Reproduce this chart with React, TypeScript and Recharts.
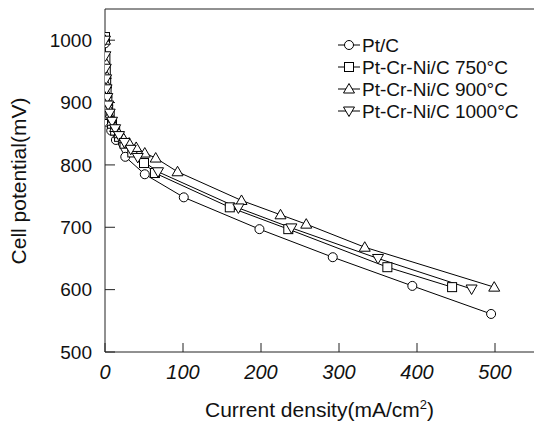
import React from "react";
import {
  LineChart,
  Line,
  XAxis,
  YAxis,
  Legend,
  ReferenceLine,
} from "recharts";

const FONT = "'Liberation Sans', Arial, Helvetica, sans-serif";

// current density (mA/cm2) and cell potential (mV) per catalyst
const ptcCurrent = [0, 0.5, 1, 2, 4, 8, 14, 26, 51, 101, 198, 292, 394, 495];
const ptcPotential = [995, 930, 900, 883, 868, 855, 840, 813, 785, 748, 697, 652, 606, 561];

const c750Current = [0, 0.5, 1, 1.5, 2, 3, 4, 6, 9, 13, 18, 25, 35, 50, 64, 160, 235, 362, 445];
const c750Potential = [1005, 970, 950, 935, 920, 905, 893, 880, 866, 855, 845, 834, 820, 803, 787, 732, 697, 636, 604];

const c900Current = [0, 0.5, 1, 1.5, 2, 3, 4, 6, 9, 13, 18, 24, 31, 40, 51, 65, 93, 175, 225, 258, 333, 499];
const c900Potential = [1000, 965, 945, 930, 915, 902, 892, 880, 870, 860, 850, 842, 835, 828, 819, 811, 789, 743, 720, 705, 668, 604];

const c1000Current = [0, 0.5, 1, 1.5, 2, 3, 4, 6, 9, 13, 18, 25, 33, 42, 68, 171, 239, 350, 470];
const c1000Potential = [1000, 975, 955, 938, 922, 908, 896, 883, 870, 858, 847, 836, 825, 812, 789, 731, 699, 650, 601];

const xTicks = [0, 100, 200, 300, 400, 500];
const yTicks = [500, 600, 700, 800, 900, 1000];

const zip = (xs: number[], ys: number[]) => xs.map((x, i) => ({ x, y: ys[i] }));

type Shape = "circle" | "square" | "up" | "down";

function Marker({ cx, cy, shape }: { cx: number; cy: number; shape: Shape }) {
  const p = { fill: "#fff", stroke: "#000", strokeWidth: 1 };
  if (shape === "circle") return <circle cx={cx} cy={cy} r={4.5} {...p} />;
  if (shape === "square") return <rect x={cx - 4.5} y={cy - 4.5} width={9} height={9} {...p} />;
  if (shape === "up")
    return <polygon points={`${cx},${cy - 5.5} ${cx + 5.5},${cy + 4} ${cx - 5.5},${cy + 4}`} {...p} />;
  return <polygon points={`${cx},${cy + 5.5} ${cx + 5.5},${cy - 4} ${cx - 5.5},${cy - 4}`} {...p} />;
}

const series: { name: string; shape: Shape; data: { x: number; y: number }[] }[] = [
  { name: "Pt/C", shape: "circle", data: zip(ptcCurrent, ptcPotential) },
  { name: "Pt-Cr-Ni/C 750°C", shape: "square", data: zip(c750Current, c750Potential) },
  { name: "Pt-Cr-Ni/C 900°C", shape: "up", data: zip(c900Current, c900Potential) },
  { name: "Pt-Cr-Ni/C 1000°C", shape: "down", data: zip(c1000Current, c1000Potential) },
];

function LegendBox() {
  return (
    <svg width={200} height={90}>
      {series.map((s, i) => {
        const y = 11 + i * 22;
        return (
          <g key={s.name}>
            <line x1={8} x2={30} y1={y} y2={y} stroke="#000" strokeWidth={1} />
            <Marker cx={19} cy={y} shape={s.shape} />
            <text x={32} y={y + 6.5} fontSize={19} fontFamily={FONT} fill="#111">
              {s.name}
            </text>
          </g>
        );
      })}
    </svg>
  );
}

function XTitle(props: any) {
  const vb = props.viewBox || {};
  const cx = vb.x + vb.width / 2;
  return (
    <text x={cx} y={vb.y + 65} textAnchor="middle" fontSize={21} fontFamily={FONT} fill="#111">
      Current density(mA/cm
      <tspan fontSize={13} dy={-8}>2</tspan>
      <tspan dy={8}>)</tspan>
    </text>
  );
}

function YTitle() {
  return (
    <text transform="translate(26,181) rotate(-90)" textAnchor="middle" fontSize={21} fontFamily={FONT} fill="#111">
      Cell potential(mV)
    </text>
  );
}

export default function App() {
  return (
    <div style={{ position: "absolute", left: 0, top: 0, width: 534, height: 428, background: "#fff" }}>
      <LineChart width={534} height={428} margin={{ top: 9, right: 0, left: 0, bottom: 26 }}>
        <XAxis
          type="number"
          dataKey="x"
          domain={[0, 550]}
          ticks={xTicks}
          allowDataOverflow
          height={50}
          tickSize={-9}
          tickMargin={22}
          axisLine={{ stroke: "#222" }}
          tickLine={{ stroke: "#222" }}
          tick={{ fontSize: 20, fontStyle: "italic", fill: "#111", fontFamily: FONT }}
          label={<XTitle />}
        />
        <YAxis
          type="number"
          dataKey="y"
          domain={[500, 1050]}
          ticks={yTicks}
          allowDataOverflow
          width={105}
          tickSize={-10}
          tickMargin={23}
          axisLine={{ stroke: "#222" }}
          tickLine={{ stroke: "#222" }}
          tick={{ fontSize: 19, fill: "#111", fontFamily: FONT }}
          label={<YTitle />}
        />
        <ReferenceLine y={1050} stroke="#222" />
        {series.map((s) => (
          <Line
            key={s.name}
            data={s.data}
            dataKey="y"
            name={s.name}
            type="linear"
            stroke="#000"
            strokeWidth={1}
            isAnimationActive={false}
            dot={(p: any) => <Marker key={`${s.name}-${p.index}`} cx={p.cx} cy={p.cy} shape={s.shape} />}
          />
        ))}
        <Legend
          layout="vertical"
          align="center"
          verticalAlign="middle"
          content={() => <LegendBox />}
          wrapperStyle={{ position: "absolute", left: 330, top: 34, width: 200, height: 90 }}
        />
      </LineChart>
    </div>
  );
}
